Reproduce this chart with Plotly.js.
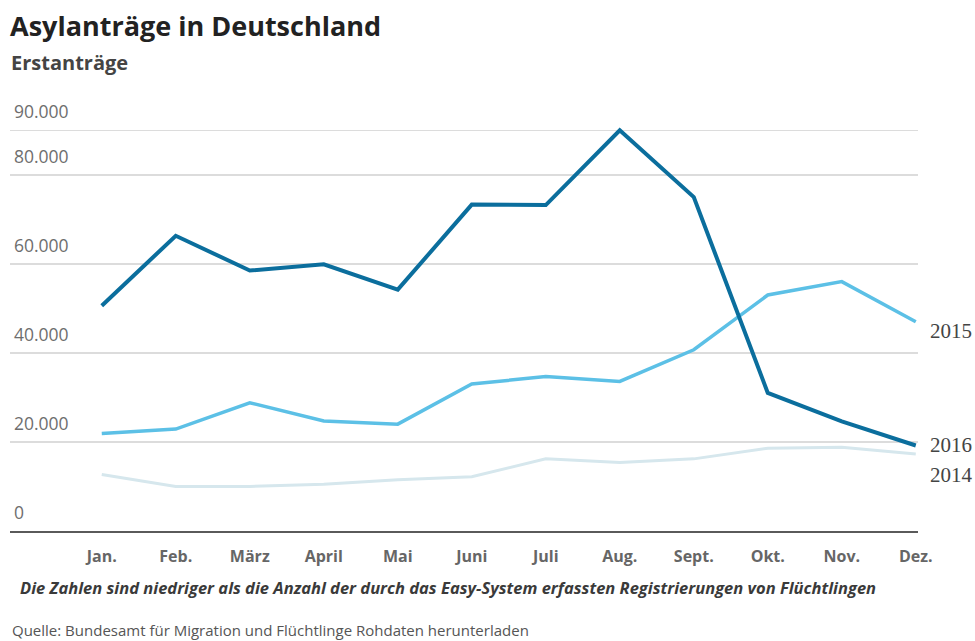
<!DOCTYPE html>
<html>
<head>
<meta charset="utf-8">
<script src="https://cdn.plot.ly/plotly-3.0.1.min.js"></script>
<style>html,body{margin:0;padding:0;background:#fff;}#chart{width:975px;height:641px;}</style>
</head>
<body>
<div id="chart"></div>
<script>
// ---- data ----
const months = ["Jan.", "Feb.", "März", "April", "Mai", "Juni", "Juli", "Aug.", "Sept.", "Okt.", "Nov.", "Dez."];
const values2016 = [50600, 66300, 58500, 59900, 54200, 73300, 73200, 90000, 75000, 31000, 24600, 19200];
const values2015 = [21900, 22900, 28800, 24700, 24000, 33000, 34700, 33600, 40700, 53000, 56000, 47000];
const values2014 = [12700, 10000, 10000, 10500, 11500, 12200, 16200, 15400, 16200, 18600, 18800, 17300];
const yTicks = [0, 20000, 40000, 60000, 80000, 90000];
const seriesNames = ["2014", "2015", "2016"];

// ---- layout geometry (pixels) ----
const W = 975, H = 641;
const L = 10, R = 918, T = 108, B = 531;
const px = x => (x - L) / (R - L);
const py = y => (B - y) / (B - T);
const xIdx = months.map((m, i) => i);
const fmt = v => String(v).replace(/\B(?=(\d{3})+(?!\d))/g, ".");

const traces = [
  {x: xIdx, y: values2014, name: seriesNames[0], mode: "lines", line: {color: "#d6e7ed", width: 3}, hoverinfo: "skip"},
  {x: xIdx, y: values2015, name: seriesNames[1], mode: "lines", line: {color: "#5cc0e6", width: 3.5}, hoverinfo: "skip"},
  {x: xIdx, y: values2016, name: seriesNames[2], mode: "lines", line: {color: "#0b6e9d", width: 4}, hoverinfo: "skip"}
];

const annotations = [];
// y tick labels above grid lines
yTicks.forEach(v => {
  annotations.push({
    xref: "paper", yref: "y", x: px(12), y: v, xanchor: "left", yanchor: "bottom", yshift: 5,
    text: fmt(v), showarrow: false,
    font: {family: "Open Sans", size: 17.5, color: "#6e6e6e"}
  });
});
// series end labels
const endLabels = [
  {name: seriesNames[1], val: values2015[11], shift: -9},
  {name: seriesNames[2], val: values2016[11], shift: 1},
  {name: seriesNames[0], val: values2014[11], shift: -21}
];
endLabels.forEach(e => {
  annotations.push({
    xref: "paper", yref: "y", x: px(928), y: e.val, xanchor: "left", yanchor: "middle", yshift: e.shift,
    text: e.name, showarrow: false,
    font: {family: "Liberation Serif", size: 21, color: "#444"}
  });
});
// subtitle
annotations.push({
  xref: "paper", yref: "paper", x: px(9), y: py(62), xanchor: "left", yanchor: "middle",
  text: "<b>Erstanträge</b>", showarrow: false,
  font: {family: "Open Sans", size: 20, color: "#444"}
});
// note
annotations.push({
  xref: "paper", yref: "paper", x: px(18), y: py(587), xanchor: "left", yanchor: "middle",
  text: "<b><i>Die Zahlen sind niedriger als die Anzahl der durch das Easy-System erfassten Registrierungen von Flüchtlingen</i></b>",
  showarrow: false,
  font: {family: "Open Sans", size: 16.5, color: "#3a3a3a"}
});
// source
annotations.push({
  xref: "paper", yref: "paper", x: px(10), y: py(630), xanchor: "left", yanchor: "middle",
  text: "Quelle: Bundesamt für Migration und Flüchtlinge Rohdaten herunterladen",
  showarrow: false,
  font: {family: "Open Sans", size: 15, color: "#555"}
});

const layout = {
  width: W, height: H,
  margin: {l: L, r: W - R, t: T, b: H - B, pad: 0},
  paper_bgcolor: "#fff", plot_bgcolor: "#fff",
  showlegend: false,
  title: {
    text: "<b>Asylanträge in Deutschland</b>",
    xref: "container", yref: "container", x: 10 / W, xanchor: "left", y: 1 - 27 / H, yanchor: "middle",
    font: {family: "Open Sans", size: 27, color: "#222"}
  },
  xaxis: {
    range: [-1.24, 11.03],
    tickmode: "array", tickvals: xIdx, ticktext: months,
    showgrid: false, zeroline: false,
    showline: true, linecolor: "#5a5a5a", linewidth: 2,
    ticks: "", ticklabelstandoff: 10,
    tickfont: {family: "Open Sans", size: 16, color: "#666", weight: 700},
    fixedrange: true
  },
  yaxis: {
    range: [0, 95000],
    tickmode: "array", tickvals: yTicks,
    showticklabels: false,
    showgrid: true, gridcolor: "#dcdcdc", gridwidth: 1.5,
    zeroline: false, showline: false, ticks: "",
    fixedrange: true
  },
  annotations: annotations
};

Plotly.newPlot("chart", traces, layout, {displayModeBar: false, staticPlot: true});
</script>
</body>
</html>
